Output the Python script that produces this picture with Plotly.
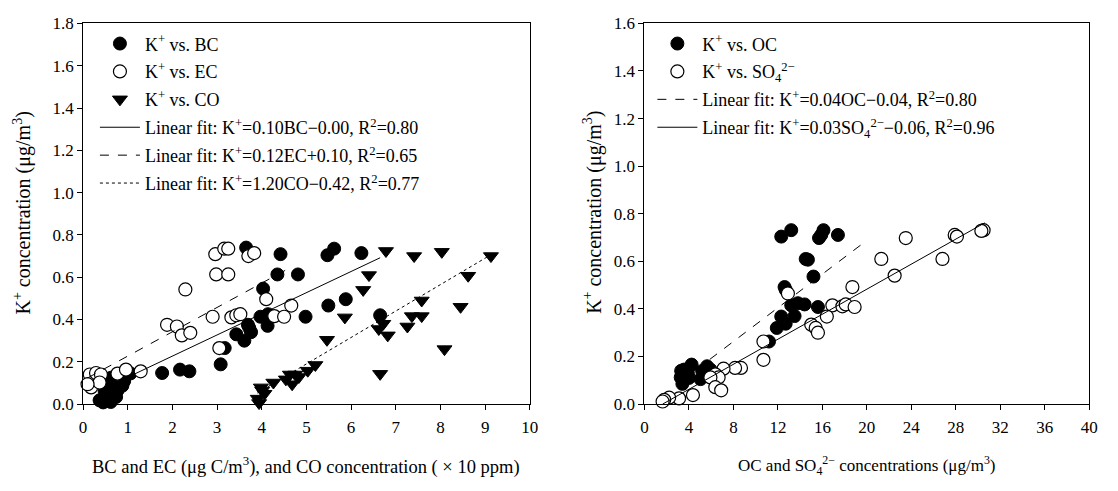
import plotly.graph_objects as go

# ---------------- data: left panel ----------------
bc_x = [0.37, 0.45, 0.55, 0.62, 0.74, 0.48, 0.55, 0.63, 0.77, 0.88, 0.92, 0.63, 0.70, 0.77, 0.85,
        1.06, 1.77, 2.17, 2.38, 3.08, 3.17, 3.43, 3.61, 3.69, 3.72, 3.76, 3.97, 4.14, 4.13, 4.03,
        4.35, 4.81, 4.98, 5.49, 5.88, 6.65, 3.65, 4.42, 5.47, 5.62, 6.23]
bc_y = [0.018, 0.008, 0.026, 0.010, 0.034, 0.064, 0.050, 0.094, 0.064, 0.087, 0.109, 0.125, 0.110, 0.132, 0.120,
        0.145, 0.147, 0.163, 0.155, 0.188, 0.265, 0.330, 0.300, 0.375, 0.360, 0.340, 0.413, 0.425, 0.370, 0.546,
        0.613, 0.613, 0.413, 0.466, 0.496, 0.420, 0.740, 0.709, 0.704, 0.735, 0.714]

ec_x = [0.15, 0.18, 0.29, 0.40, 0.37, 0.10, 0.77, 0.96, 1.29, 1.88, 2.10, 2.21, 2.40, 2.29, 2.90,
        3.05, 3.32, 3.43, 3.52, 2.96, 3.16, 3.25, 2.98, 3.25, 3.70, 3.83, 4.10, 4.66, 4.28, 4.50]
ec_y = [0.140, 0.079, 0.147, 0.140, 0.102, 0.094, 0.144, 0.163, 0.155, 0.375, 0.367, 0.325, 0.337, 0.542, 0.413,
        0.265, 0.410, 0.420, 0.425, 0.709, 0.735, 0.735, 0.613, 0.613, 0.700, 0.714, 0.496, 0.466, 0.416, 0.413]

co_x = [3.94, 3.91, 4.06, 3.98, 4.01, 4.26, 4.54, 4.63, 4.68, 4.75, 4.83, 5.03, 5.20, 5.46, 5.86, 6.27,
        6.40, 6.78, 7.41, 6.62, 6.82, 6.72, 7.26, 7.36, 7.58, 7.58, 6.65, 8.03, 9.13, 8.62, 8.45, 8.09]
co_y = [0.005, 0.026, 0.049, 0.079, 0.064, 0.102, 0.117, 0.140, 0.094, 0.140, 0.128, 0.158, 0.185, 0.304, 0.410, 0.540,
        0.610, 0.724, 0.700, 0.355, 0.325, 0.380, 0.367, 0.416, 0.416, 0.490, 0.143, 0.720, 0.700, 0.607, 0.460, 0.260]

# fitted lines as drawn: slope, intercept, x-start, x-end
fit_left_names = ["BC", "EC", "CO"]
fit_left_slope = [0.100, 0.115, 0.125]
fit_left_icpt = [0.027, 0.112, -0.435]
fit_left_x0 = [0.37, 0.10, 3.90]
fit_left_x1 = [6.65, 4.63, 9.15]

# ---------------- data: right panel ----------------
oc_x = [12.3, 13.2, 15.7, 16.1, 15.9, 17.4, 14.5, 14.7, 15.2, 12.6, 12.7, 13.2, 13.8, 14.4, 13.5, 15.6,
        12.3, 12.7, 11.9, 11.2, 4.24, 3.56, 3.26, 3.41, 3.90, 4.00, 3.30, 5.19, 5.63, 5.93, 5.04, 5.50]
oc_y = [0.704, 0.731, 0.698, 0.731, 0.711, 0.711, 0.610, 0.607, 0.536, 0.492, 0.480, 0.415, 0.424, 0.419, 0.370, 0.408,
        0.368, 0.338, 0.320, 0.263, 0.166, 0.145, 0.112, 0.085, 0.130, 0.110, 0.140, 0.139, 0.159, 0.145, 0.105, 0.120]

so4_x = [30.5, 30.3, 27.9, 28.1, 23.5, 26.8, 21.3, 22.5, 18.7, 12.9, 16.9, 17.8, 18.1, 18.9, 16.4, 15.0, 15.4,
         15.6, 10.7, 10.7, 8.68, 8.15, 7.11, 6.37, 6.67, 5.93, 6.37, 6.90, 4.36, 3.11, 2.22, 1.78, 1.63]
so4_y = [0.731, 0.728, 0.711, 0.704, 0.698, 0.610, 0.610, 0.540, 0.492, 0.465, 0.415, 0.411, 0.419, 0.408, 0.368, 0.334, 0.320,
         0.300, 0.263, 0.186, 0.152, 0.152, 0.149, 0.125, 0.112, 0.112, 0.071, 0.058, 0.038, 0.024, 0.027, 0.018, 0.011]

fit_right_names = ["OC", "SO4"]
fit_right_slope = [0.0354, 0.0263]
fit_right_icpt = [-0.020, -0.043]
fit_right_x0 = [3.30, 1.63]
fit_right_x1 = [20.0, 30.6]

# tick labels
left_xticks = list(range(0, 11))
left_yticks = [0.0, 0.2, 0.4, 0.6, 0.8, 1.0, 1.2, 1.4, 1.6, 1.8]
right_xticks = list(range(0, 41, 4))
right_yticks = [0.0, 0.2, 0.4, 0.6, 0.8, 1.0, 1.2, 1.4, 1.6]

# legend labels
left_labels = ["K<sup>+</sup> vs. BC", "K<sup>+</sup> vs. EC", "K<sup>+</sup> vs. CO",
               "Linear fit: K<sup>+</sup>=0.10BC\u22120.00, R<sup>2</sup>=0.80",
               "Linear fit: K<sup>+</sup>=0.12EC+0.10, R<sup>2</sup>=0.65",
               "Linear fit: K<sup>+</sup>=1.20CO\u22120.42, R<sup>2</sup>=0.77"]
right_labels = ["K<sup>+</sup> vs. OC", "K<sup>+</sup> vs. SO<sub>4</sub><sup>2\u2212</sup>",
                "Linear fit: K<sup>+</sup>=0.04OC\u22120.04, R<sup>2</sup>=0.80",
                "Linear fit: K<sup>+</sup>=0.03SO<sub>4</sub><sup>2\u2212</sup>\u22120.06, R<sup>2</sup>=0.96"]

FONT = "Liberation Serif, Times New Roman, serif"
W, H = 1118, 491

def px_x(p):
    return p / W

def px_y(p):
    return 1 - p / H

fig = go.Figure()

MS = 13
filled = dict(symbol="circle", size=MS, color="black", line=dict(color="black", width=1))
opened = dict(symbol="circle", size=MS, color="white", line=dict(color="black", width=1.2))
tri = dict(symbol="triangle-down", size=13, color="black", line=dict(color="black", width=1))

def sc(x, y, marker, name, xa, ya, leg, grp):
    fig.add_trace(go.Scatter(x=x, y=y, mode="markers", marker=marker, name=name,
                             xaxis=xa, yaxis=ya, legend=leg, legendgroup=grp, cliponaxis=False,
                             hoverinfo="x+y"))

def fitline(slope, icpt, x0, x1, dash, name, xa, ya, leg, grp):
    xs = [x0, x1]
    ys = [slope * x0 + icpt, slope * x1 + icpt]
    fig.add_trace(go.Scatter(x=xs, y=ys, mode="lines", line=dict(color="black", width=1, dash=dash),
                             name=name, xaxis=xa, yaxis=ya, legend=leg, legendgroup=grp))

sc(bc_x, bc_y, filled, left_labels[0], "x", "y", "legend", "a1")
sc(ec_x, ec_y, opened, left_labels[1], "x", "y", "legend", "a2")
sc(co_x, co_y, tri, left_labels[2], "x", "y", "legend", "a3")
left_dash = ["solid", "dash", "dot"]
for i in range(3):
    fitline(fit_left_slope[i], fit_left_icpt[i], fit_left_x0[i], fit_left_x1[i], left_dash[i],
            left_labels[3 + i], "x", "y", "legend", "a" + str(4 + i))

sc(oc_x, oc_y, filled, right_labels[0], "x2", "y2", "legend2", "b1")
sc(so4_x, so4_y, opened, right_labels[1], "x2", "y2", "legend2", "b2")
right_dash = ["dash", "solid"]
for i in range(2):
    fitline(fit_right_slope[i], fit_right_icpt[i], fit_right_x0[i], fit_right_x1[i], right_dash[i],
            right_labels[2 + i], "x2", "y2", "legend2", "b" + str(3 + i))

TOP, BOT = 15, 411
ydom = [px_y(BOT), px_y(TOP)]

axis_common = dict(showline=True, linecolor="black", linewidth=1, mirror=True, ticks="outside",
                   ticklen=5, tickwidth=1, tickcolor="black", showgrid=False, zeroline=False,
                   tickfont=dict(family=FONT, size=17, color="black"))

leg_common = dict(xanchor="left", yanchor="top", bgcolor="rgba(0,0,0,0)", borderwidth=0,
                  font=dict(family=FONT, size=18, color="black"), tracegroupgap=1.5,
                  traceorder="grouped", itemwidth=40)

fig.update_layout(
    width=W, height=H, margin=dict(l=0, r=0, t=0, b=0),
    paper_bgcolor="white", plot_bgcolor="white",
    font=dict(family=FONT, size=17, color="black"),
    showlegend=True,
    xaxis=dict(domain=[px_x(80), px_x(532)], range=[0, 10], tickvals=left_xticks, anchor="y",
               ticklabelstandoff=3, **axis_common),
    yaxis=dict(domain=ydom, range=[0, 1.8], tickvals=left_yticks, tickformat=".1f", anchor="x", **axis_common),
    xaxis2=dict(domain=[px_x(648), px_x(1098)], range=[0, 40], tickvals=right_xticks, anchor="y2",
                ticklabelstandoff=3, **axis_common),
    yaxis2=dict(domain=ydom, range=[0, 1.6], tickvals=right_yticks, tickformat=".1f", anchor="x2", **axis_common),
    legend=dict(x=px_x(92), y=px_y(17), **leg_common),
    legend2=dict(x=px_x(656), y=px_y(17), **leg_common),
)

ytitle_font = dict(family=FONT, size=20, color="black")
fig.add_annotation(x=px_x(19), y=px_y(212), xref="paper", yref="paper", textangle=-90,
                   xanchor="center", yanchor="middle",
                   text="K<sup>+</sup> concentration (\u03bcg/m<sup>3</sup>)", showarrow=False,
                   font=ytitle_font)
fig.add_annotation(x=px_x(596), y=px_y(212), xref="paper", yref="paper", textangle=-90,
                   xanchor="center", yanchor="middle",
                   text="K<sup>+</sup> concentration (\u03bcg/m<sup>3</sup>)", showarrow=False,
                   font=ytitle_font)
fig.add_annotation(x=px_x(306), y=px_y(475), xref="paper", yref="paper",
                   xanchor="center", yanchor="middle",
                   text="BC and EC (\u03bcg C/m<sup>3</sup>), and CO concentration ( \u00d7 10 ppm)",
                   showarrow=False, font=dict(family=FONT, size=18.5, color="black"))
fig.add_annotation(x=px_x(873), y=px_y(475), xref="paper", yref="paper",
                   xanchor="center", yanchor="middle",
                   text="OC and SO<sub>4</sub><sup>2\u2212</sup> concentrations (\u03bcg/m<sup>3</sup>)",
                   showarrow=False, font=dict(family=FONT, size=17, color="black"))

fig.write_html("out.html", post_script="document.body.style.margin='0px';document.body.style.padding='0px';")
